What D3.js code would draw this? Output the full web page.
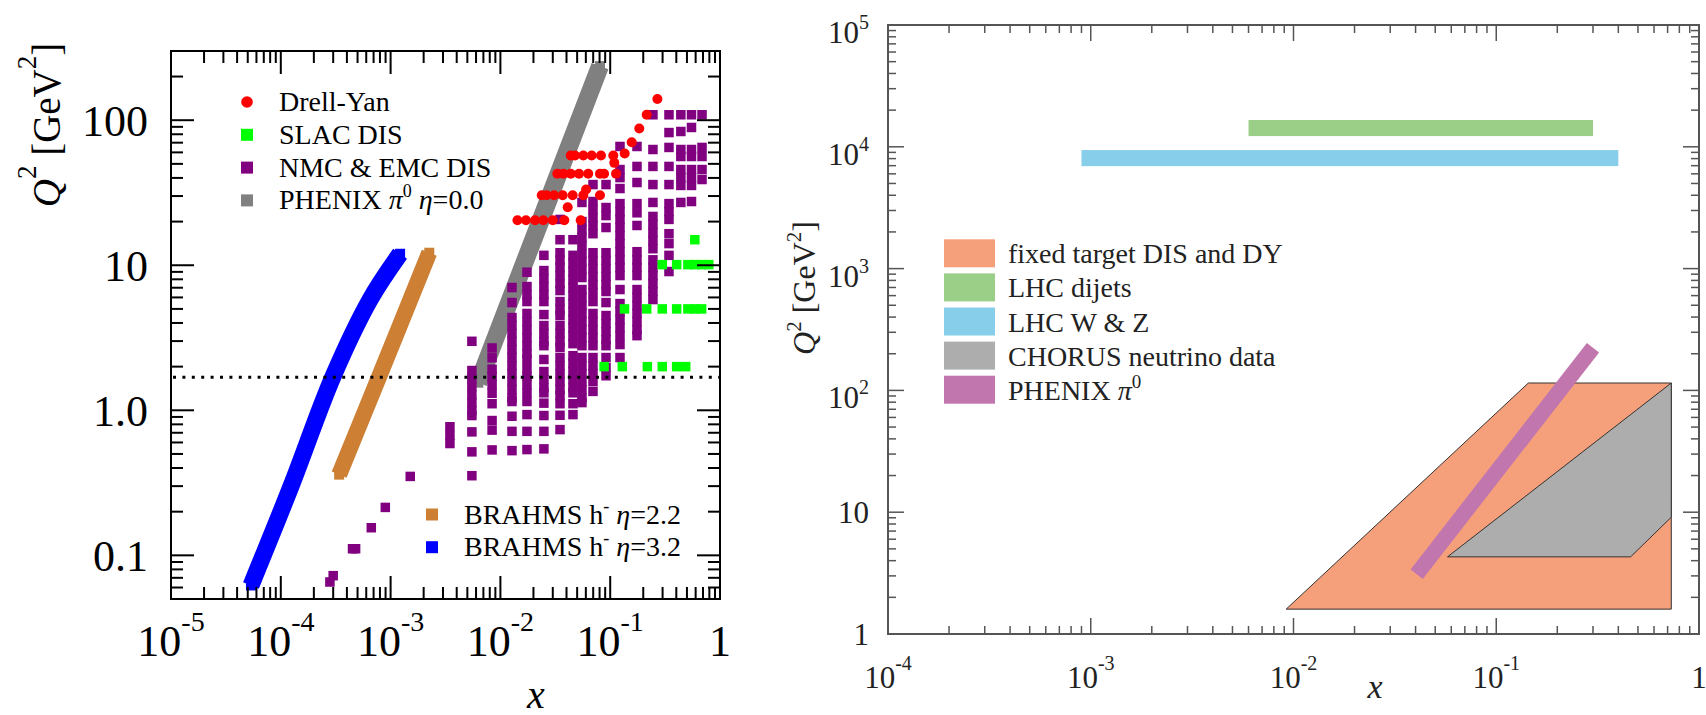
<!DOCTYPE html>
<html>
<head>
<meta charset="utf-8">
<script src="https://cdn.jsdelivr.net/npm/d3@7"></script>
<style>
  body { margin: 0; background: #fff; }
  text { font-family: "Liberation Serif", "DejaVu Serif", serif; white-space: pre; }
</style>
</head>
<body>
<script>
// ---------- left panel data: [x, Q2] ----------
var brahms32 = [[5.35e-5, 0.062], [1.24e-4, 0.30], [3.0e-4, 1.72], [6.5e-4, 5.8], [1.22e-3, 12.0]];
var brahms22 = [[3.4e-4, 0.36], [7.9e-4, 1.72], [2.25e-3, 12.2]];
var phenixLeft = [[6.3e-3, 1.55], [0.0225, 19.1], [0.0807, 236]];

var drellYan = [
  [0.0143, 20.4], [0.0171, 20.4], [0.0207, 20.4], [0.0246, 20.4], [0.030, 20.4], [0.0382, 20.4], [0.0539, 20.4],
  [0.0238, 30.4], [0.0264, 30.4], [0.0308, 30.4], [0.0369, 30.4], [0.0455, 30.4], [0.0569, 30.4], [0.0807, 30.4],
  [0.033, 42.7], [0.0374, 42.7], [0.0437, 42.7], [0.052, 42.7], [0.0631, 42.7], [0.0807, 42.7], [0.0879, 42.7], [0.113, 42.7],
  [0.0437, 57.1], [0.0478, 57.1], [0.0569, 57.1], [0.0678, 57.1], [0.0824, 57.1], [0.1067, 57.1],
  [0.041, 25.1], [0.0603, 33.3], [0.109, 50.8], [0.1355, 58.9], [0.157, 70.5], [0.184, 87.7], [0.215, 109], [0.269, 140]
];

var slacDis = [
  [0.298, 10.1], [0.403, 10.1], [0.51, 10.1], [0.59, 10.1], [0.68, 10.1], [0.79, 10.1],
  [0.135, 5.0], [0.215, 5.0], [0.298, 5.0], [0.403, 5.0], [0.51, 5.0], [0.59, 5.0], [0.68, 5.0],
  [0.088, 2.0], [0.129, 2.0], [0.218, 2.0], [0.298, 2.0], [0.403, 2.0], [0.487, 2.0],
  [0.59, 15.0]
];

var nmcLow = [[0.00151, 0.35], [0.000895, 0.214], [0.000667, 0.155], [0.00045, 0.111], [0.00048, 0.111],
  [0.0003, 0.0724], [0.00028, 0.0655]];

// each column: [x, list of Q2]
var nmcColumns = [
  [0.00347, [0.77, 0.67, 0.59]],
  [0.0055, [2.99, 1.88, 1.65, 1.46, 1.28, 1.13, 0.995, 0.92, 0.71, 0.517, 0.354]],
  [0.0084, [2.69, 2.30, 1.92, 1.71, 1.50, 1.31, 1.11, 0.85, 0.73, 0.533]],
  [0.01275, [7.02, 5.53, 4.36, 3.84, 3.38, 2.98, 2.62, 2.31, 2.03, 1.79, 1.58, 1.39, 1.22, 1.15, 0.91, 0.716, 0.527]],
  [0.01746, [8.95, 7.13, 6.28, 5.62, 4.65, 4.09, 3.60, 3.17, 2.79, 2.46, 2.24, 1.94, 1.71, 1.50, 1.32, 1.15, 0.934, 0.716, 0.536]],
  [0.0249, [11.7, 9.19, 8.09, 7.13, 6.28, 5.62, 4.57, 3.84, 3.38, 2.98, 2.79, 2.24, 1.85, 1.63, 1.43, 1.32, 1.12, 0.92, 0.716, 0.542]],
  [0.0349, [20.7, 15.0, 12.2, 10.9, 9.64, 8.49, 7.48, 6.69, 5.62, 4.95, 4.50, 3.84, 3.38, 2.98, 2.71, 2.31, 2.03, 1.79, 1.58, 1.39, 1.26, 1.11, 0.924, 0.736]],
  [0.0458, [15.0, 11.7, 10.3, 9.05, 7.97, 7.02, 6.18, 5.44, 4.79, 4.22, 3.72, 3.27, 2.88, 2.38, 2.10, 1.85, 1.63, 1.43, 1.32, 1.11, 0.934]],
  [0.0553, [27.1, 20.0, 17.6, 15.5, 13.7, 12.0, 10.6, 9.34, 8.23, 6.80, 5.99, 5.27, 4.65, 4.09, 3.60, 3.17, 2.79, 2.31, 2.03, 1.79, 1.58, 1.39, 1.22, 1.13]],
  [0.0697, [36.0, 27.5, 24.2, 21.3, 18.8, 16.5, 12.2, 10.8, 9.49, 8.36, 7.36, 6.48, 5.62, 4.65, 4.09, 3.60, 3.17, 2.79, 2.31, 2.03, 1.79, 1.58, 1.35]],
  [0.0916, [36.0, 25.0, 22.0, 18.2, 12.2, 10.8, 9.49, 8.36, 7.36, 6.59, 5.53, 4.50, 3.96, 3.49, 3.07, 2.79, 2.31, 1.97, 1.73]],
  [0.1228, [65.9, 45.7, 40.2, 33.8, 26.6, 23.4, 20.7, 18.2, 16.0, 14.1, 12.4, 10.9, 9.64, 8.49, 6.80, 5.44, 4.79, 4.22, 3.72, 3.27, 2.84, 2.31]],
  [0.1754, [65.9, 48.0, 37.2, 26.6, 23.0, 18.8, 12.4, 10.9, 9.64, 8.49, 6.80, 5.99, 5.27, 4.65, 4.09, 3.60, 3.27]],
  [0.245, [109, 62.8, 48.0, 36.0, 27.1, 21.7, 19.1, 16.8, 14.8, 13.0, 10.9, 9.64, 8.49, 7.48, 6.59, 5.80]],
  [0.343, [109, 82.2, 64.9, 48.0, 36.0, 26.6, 23.4, 20.7, 16.5, 14.1, 11.7, 9.05]],
  [0.44, [109, 83.6, 62.8, 56.2, 45.7, 40.2, 35.5, 27.1]],
  [0.55, [109, 89.1, 62.8, 56.2, 45.7, 40.2, 35.5, 27.5]],
  [0.686, [109, 64.9, 56.2, 45.7, 39.0]]
];

var q2Cut = 1.69;
var leftXTicks = [[1e-5, '-5'], [1e-4, '-4'], [1e-3, '-3'], [1e-2, '-2'], [1e-1, '-1'], [1, '']];
var leftYTicks = [[100, '100'], [10, '10'], [1, '1.0'], [0.1, '0.1']];

// ---------- right panel data ----------
var fixedTarget = [[0.0092, 1.6], [0.144, 115], [0.73, 115], [0.73, 1.6]];
var chorus = [[0.0575, 4.3], [0.73, 115], [0.73, 9.1], [0.46, 4.3]];
var phenixRight = [[0.0405, 3.1], [0.3, 224]];
var lhcDijets = [0.006, 0.3, 12250, 16600];   // xmin, xmax, Q2min, Q2max
var lhcWZ = [0.0009, 0.4, 6940, 9400];
var rightXTicks = [[1e-4, '-4'], [1e-3, '-3'], [1e-2, '-2'], [1e-1, '-1'], [1, '']];
var rightYTicks = [[1, ''], [10, ''], [100, '2'], [1e3, '3'], [1e4, '4'], [1e5, '5']];

var svg = d3.select('body').append('svg').attr('width', 1706).attr('height', 715);

function isMajor(v) { var l = Math.log10(v); return Math.abs(l - Math.round(l)) < 1e-6; }

function rich(sel, x, y, parts, o) {
  var t = sel.append('text').attr('x', x).attr('y', y)
      .attr('font-size', o.size).attr('fill', o.fill || '#000')
      .attr('text-anchor', o.anchor || 'start');
  if (o.rotate) t.attr('transform', 'rotate(-90,' + x + ',' + y + ')');
  var shift = 0;
  parts.forEach(function (p) {
    var s = t.append('tspan').text(p.t);
    if (p.it) s.attr('font-style', 'italic');
    var target = p.sup ? -o.supDy : 0;
    if (target !== shift) { s.attr('dy', target - shift); shift = target; }
    if (p.sup) s.attr('font-size', o.supSize);
  });
  return t;
}

function frame(g, x, y, o) {
  var x0 = x.range()[0], x1 = x.range()[1], yb = y.range()[0], yt = y.range()[1];
  x.ticks().forEach(function (v) {
    var len = isMajor(v) ? o.major : o.minor, px = x(v);
    g.append('line').attr('x1', px).attr('x2', px).attr('y1', yb).attr('y2', yb - len);
    g.append('line').attr('x1', px).attr('x2', px).attr('y1', yt).attr('y2', yt + len);
  });
  y.ticks().forEach(function (v) {
    var len = isMajor(v) ? o.major : o.minor, py = y(v);
    g.append('line').attr('y1', py).attr('y2', py).attr('x1', x0).attr('x2', x0 + len);
    g.append('line').attr('y1', py).attr('y2', py).attr('x1', x1).attr('x2', x1 - len);
  });
  g.selectAll('line').attr('stroke', o.color).attr('stroke-width', o.tickW);
  g.append('rect').attr('x', x0).attr('y', yt).attr('width', x1 - x0).attr('height', yb - yt)
      .attr('fill', 'none').attr('stroke', o.color).attr('stroke-width', o.frameW);
}

// ================= LEFT PANEL =================
var xL = d3.scaleLog().domain([1e-5, 1]).range([171, 720]);
var yL = d3.scaleLog().domain([0.05, 300]).range([599, 51]);
var gL = svg.append('g');

gL.append('defs').append('clipPath').attr('id', 'clipL')
  .append('rect').attr('x', 171).attr('y', 51).attr('width', 549).attr('height', 548);
var dataL = gL.append('g').attr('clip-path', 'url(#clipL)');

var bandLine = d3.line().x(function (d) { return xL(d[0]); }).y(function (d) { return yL(d[1]); })
    .curve(d3.curveCatmullRom);

function band(pts, color, w) {
  dataL.append('path').attr('d', bandLine(pts)).attr('fill', 'none')
    .attr('stroke', color).attr('stroke-width', w).attr('stroke-linecap', 'butt');
  var ends = [pts[0], pts[pts.length - 1]];
  dataL.selectAll(null).data(ends).enter().append('rect')
    .attr('x', function (d) { return xL(d[0]) - 5; }).attr('y', function (d) { return yL(d[1]) - 5; })
    .attr('width', 10).attr('height', 10).attr('fill', color);
}
band(phenixLeft, '#808080', 18);
band(brahms22, '#cd8034', 16);
band(brahms32, '#0000ff', 17);

var nmcPts = nmcLow.slice();
nmcColumns.forEach(function (c) { c[1].forEach(function (q) { nmcPts.push([c[0], q]); }); });
function squares(pts, color, s) {
  dataL.selectAll(null).data(pts).enter().append('rect')
    .attr('x', function (d) { return xL(d[0]) - s / 2; }).attr('y', function (d) { return yL(d[1]) - s / 2; })
    .attr('width', s).attr('height', s).attr('fill', color);
}
squares(nmcPts, '#800080', 9.5);
squares(slacDis, '#00ff00', 9.5);
dataL.selectAll(null).data(drellYan).enter().append('circle')
  .attr('cx', function (d) { return xL(d[0]); }).attr('cy', function (d) { return yL(d[1]); })
  .attr('r', 5).attr('fill', '#ff0000');

gL.append('line').attr('x1', 173).attr('x2', 720).attr('y1', yL(q2Cut)).attr('y2', yL(q2Cut))
  .attr('stroke', '#000').attr('stroke-width', 3).attr('stroke-dasharray', '3 6.4');

frame(gL.append('g'), xL, yL, { major: 23, minor: 12, color: '#000', tickW: 2, frameW: 2 });

leftXTicks.forEach(function (t) {
  var parts = t[1] ? [{ t: '10' }, { t: t[1], sup: true }] : [{ t: '1' }];
  rich(gL, xL(t[0]), 656, parts, { size: 44, supSize: 28, supDy: 25, anchor: 'middle' });
});
leftYTicks.forEach(function (t) {
  rich(gL, 148, yL(t[0]) + 16, [{ t: t[1] }], { size: 44, anchor: 'end' });
});
rich(gL, 60, 125, [{ t: 'Q', it: true }, { t: '2', sup: true }, { t: ' [GeV' }, { t: '2', sup: true }, { t: ']' }],
  { size: 39, supSize: 27, supDy: 24, anchor: 'middle', rotate: true });
rich(gL, 536, 708, [{ t: 'x', it: true }], { size: 40, anchor: 'middle' });

// legends
var legTop = [
  ['circle', '#ff0000', [{ t: 'Drell-Yan' }]],
  ['square', '#00ff00', [{ t: 'SLAC DIS' }]],
  ['square', '#800080', [{ t: 'NMC & EMC DIS' }]],
  ['square', '#808080', [{ t: 'PHENIX ' }, { t: 'π', it: true }, { t: '0', sup: true }, { t: ' ' }, { t: 'η', it: true }, { t: '=0.0' }]]
];
var legBottom = [
  ['square', '#cd8034', [{ t: 'BRAHMS h' }, { t: '-', sup: true }, { t: ' ' }, { t: 'η', it: true }, { t: '=2.2' }]],
  ['square', '#0000ff', [{ t: 'BRAHMS h' }, { t: '-', sup: true }, { t: ' ' }, { t: 'η', it: true }, { t: '=3.2' }]]
];
function legend(items, mx, tx, y0, dy) {
  items.forEach(function (it, i) {
    var cy = y0 + i * dy;
    if (it[0] === 'circle') gL.append('circle').attr('cx', mx).attr('cy', cy).attr('r', 5.8).attr('fill', it[1]);
    else gL.append('rect').attr('x', mx - 6).attr('y', cy - 6).attr('width', 12).attr('height', 12).attr('fill', it[1]);
    rich(gL, tx, cy + 9, it[2], { size: 28, supSize: 18, supDy: 12 });
  });
}
legend(legTop, 247, 279, 102, 32.8);
legend(legBottom, 432, 464, 514.5, 32.7);

// ================= RIGHT PANEL =================
var xR = d3.scaleLog().domain([1e-4, 1]).range([888, 1699]);
var yR = d3.scaleLog().domain([1, 1e5]).range([634, 25]);
var gR = svg.append('g');
var polyLine = d3.line().x(function (d) { return xR(d[0]); }).y(function (d) { return yR(d[1]); });

gR.append('path').attr('d', polyLine(fixedTarget) + 'Z').attr('fill', '#f6a07b')
  .attr('stroke', '#333').attr('stroke-width', 1);
gR.append('path').attr('d', polyLine(chorus) + 'Z').attr('fill', '#adadad')
  .attr('stroke', '#333').attr('stroke-width', 1);
gR.append('path').attr('d', polyLine(phenixRight)).attr('fill', 'none')
  .attr('stroke', '#c177ae').attr('stroke-width', 15.5).attr('stroke-linecap', 'butt');

[[lhcDijets, '#9bcf87'], [lhcWZ, '#87ceeb']].forEach(function (b) {
  var r = b[0];
  gR.append('rect').attr('x', xR(r[0])).attr('y', yR(r[3]))
    .attr('width', xR(r[1]) - xR(r[0])).attr('height', yR(r[2]) - yR(r[3])).attr('fill', b[1]);
});

frame(gR.append('g'), xR, yR, { major: 16, minor: 8, color: '#555', tickW: 1.5, frameW: 2 });

rightXTicks.forEach(function (t) {
  var parts = t[1] ? [{ t: '10' }, { t: t[1], sup: true }] : [{ t: '1' }];
  rich(gR, xR(t[0]), 688, parts, { size: 31, supSize: 20, supDy: 18, anchor: 'middle', fill: '#222' });
});
rightYTicks.forEach(function (t) {
  var v = t[0];
  if (t[1]) rich(gR, 869, yR(v) + 18, [{ t: '10' }, { t: t[1], sup: true }], { size: 31, supSize: 20, supDy: 14, anchor: 'end', fill: '#222' });
  else rich(gR, 869, yR(v) + 11, [{ t: String(v) }], { size: 31, anchor: 'end', fill: '#222' });
});
rich(gR, 815, 288, [{ t: 'Q', it: true }, { t: '2', sup: true }, { t: ' [GeV' }, { t: '2', sup: true }, { t: ']' }],
  { size: 32, supSize: 21, supDy: 14, anchor: 'middle', rotate: true, fill: '#222' });
rich(gR, 1375, 698, [{ t: 'x', it: true }], { size: 34, anchor: 'middle', fill: '#222' });

var legRight = [
  ['#f6a07b', [{ t: 'fixed target DIS and DY' }]],
  ['#9bcf87', [{ t: 'LHC dijets' }]],
  ['#87ceeb', [{ t: 'LHC W & Z' }]],
  ['#adadad', [{ t: 'CHORUS neutrino data' }]],
  ['#c177ae', [{ t: 'PHENIX ' }, { t: 'π', it: true }, { t: '0', sup: true }]]
];
legRight.forEach(function (it, i) {
  var top = 239.3 + i * 34.1;
  gR.append('rect').attr('x', 944).attr('y', top).attr('width', 51).attr('height', 28).attr('fill', it[0]);
  rich(gR, 1008, top + 24, it[1], { size: 28, supSize: 19, supDy: 12, fill: '#222' });
});
</script>
</body>
</html>
